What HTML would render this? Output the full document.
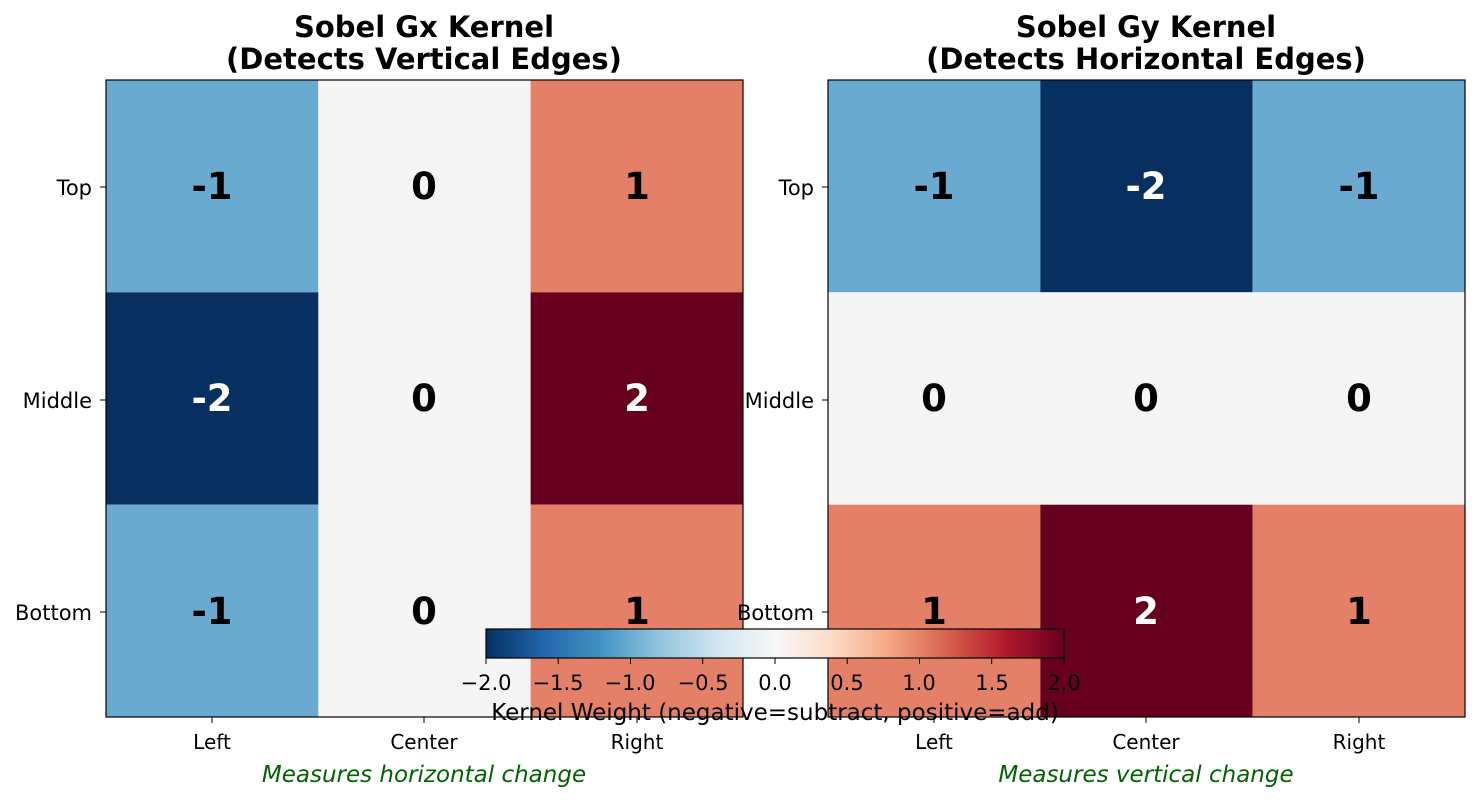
<!DOCTYPE html>
<html><head><meta charset="utf-8"><style>body{margin:0;background:#fff}svg{display:block;font-family:"DejaVu Sans","Liberation Sans",sans-serif}</style></head>
<body>
<svg width="1479" height="802" xmlns="http://www.w3.org/2000/svg">
<defs><linearGradient id="g" x1="0" x2="1" y1="0" y2="0">
<stop offset="0" stop-color="#053061"/><stop offset="0.1" stop-color="#2166ac"/><stop offset="0.2" stop-color="#4393c3"/><stop offset="0.3" stop-color="#92c5de"/><stop offset="0.4" stop-color="#d1e5f0"/><stop offset="0.5" stop-color="#f7f7f7"/><stop offset="0.6" stop-color="#fddbc7"/><stop offset="0.7" stop-color="#f4a582"/><stop offset="0.8" stop-color="#d6604d"/><stop offset="0.9" stop-color="#b2182b"/><stop offset="1" stop-color="#67001f"/></linearGradient></defs>
<!-- left -->
<g>
<rect x="106" y="80" width="212.3" height="212.3" fill="#6aaad0"/><rect x="318.3" y="80" width="212.3" height="637" fill="#f5f5f5"/><rect x="530.6" y="80" width="212.4" height="212.3" fill="#e48067"/>
<rect x="106" y="292.3" width="212.3" height="212.4" fill="#073060"/><rect x="530.6" y="292.3" width="212.4" height="212.4" fill="#67001f"/>
<rect x="106" y="504.7" width="212.3" height="212.3" fill="#6aaad0"/><rect x="530.6" y="504.7" width="212.4" height="212.3" fill="#e48067"/>
<rect x="106" y="80" width="637" height="637" fill="none" stroke="#000" stroke-width="1.2"/>
<g font-size="37" font-weight="bold" text-anchor="middle">
<text x="212" y="199">-1</text><text x="424" y="199">0</text><text x="637" y="199">1</text>
<text x="212" y="411" fill="#fff">-2</text><text x="424" y="411">0</text><text x="637" y="411" fill="#fff">2</text>
<text x="212" y="624">-1</text><text x="424" y="624">0</text><text x="637" y="624">1</text></g>
<g stroke="#000"><line x1="100" x2="106" y1="187" y2="187"/><line x1="100" x2="106" y1="400" y2="400"/><line x1="100" x2="106" y1="612" y2="612"/>
<line x1="212" x2="212" y1="717" y2="723"/><line x1="424" x2="424" y1="717" y2="723"/><line x1="637" x2="637" y1="717" y2="723"/></g>
<g font-size="21" text-anchor="end"><text x="92" y="195">Top</text><text x="92" y="408">Middle</text><text x="92" y="620">Bottom</text></g>
<g font-size="20" text-anchor="middle"><text x="212" y="749">Left</text><text x="424" y="749">Center</text><text x="637" y="749">Right</text></g>
<text x="424" y="782" font-size="23" font-style="italic" fill="#006400" text-anchor="middle">Measures horizontal change</text>
<g font-size="29" font-weight="bold" text-anchor="middle"><text x="424" y="37">Sobel Gx Kernel</text><text x="424" y="69">(Detects Vertical Edges)</text></g>
</g>
<!-- right -->
<g>
<rect x="828" y="80" width="212.3" height="212.3" fill="#6aaad0"/><rect x="1040.3" y="80" width="212.3" height="212.3" fill="#073060"/><rect x="1252.6" y="80" width="212.4" height="212.3" fill="#6aaad0"/>
<rect x="828" y="292.3" width="637" height="212.4" fill="#f5f5f5"/>
<rect x="828" y="504.7" width="212.3" height="212.3" fill="#e48067"/><rect x="1040.3" y="504.7" width="212.3" height="212.3" fill="#67001f"/><rect x="1252.6" y="504.7" width="212.4" height="212.3" fill="#e48067"/>
<rect x="828" y="80" width="637" height="637" fill="none" stroke="#000" stroke-width="1.2"/>
<g font-size="37" font-weight="bold" text-anchor="middle">
<text x="934" y="199">-1</text><text x="1146" y="199" fill="#fff">-2</text><text x="1359" y="199">-1</text>
<text x="934" y="411">0</text><text x="1146" y="411">0</text><text x="1359" y="411">0</text>
<text x="934" y="624">1</text><text x="1146" y="624" fill="#fff">2</text><text x="1359" y="624">1</text></g>
<g stroke="#000"><line x1="822" x2="828" y1="187" y2="187"/><line x1="822" x2="828" y1="400" y2="400"/><line x1="822" x2="828" y1="612" y2="612"/>
<line x1="934" x2="934" y1="717" y2="723"/><line x1="1146" x2="1146" y1="717" y2="723"/><line x1="1359" x2="1359" y1="717" y2="723"/></g>
<g font-size="21" text-anchor="end"><text x="814" y="195">Top</text><text x="814" y="408">Middle</text><text x="814" y="620">Bottom</text></g>
<g font-size="20" text-anchor="middle"><text x="934" y="749">Left</text><text x="1146" y="749">Center</text><text x="1359" y="749">Right</text></g>
<text x="1146" y="782" font-size="23" font-style="italic" fill="#006400" text-anchor="middle">Measures vertical change</text>
<g font-size="29" font-weight="bold" text-anchor="middle"><text x="1146" y="37">Sobel Gy Kernel</text><text x="1146" y="69">(Detects Horizontal Edges)</text></g>
</g>
<!-- colorbar -->
<rect x="486" y="629" width="578" height="29" fill="url(#g)" stroke="#000" stroke-width="1.2"/>
<g stroke="#000"><line x1="486" x2="486" y1="658" y2="664"/><line x1="558.2" x2="558.2" y1="658" y2="664"/><line x1="630.5" x2="630.5" y1="658" y2="664"/><line x1="702.7" x2="702.7" y1="658" y2="664"/><line x1="775" x2="775" y1="658" y2="664"/><line x1="847.2" x2="847.2" y1="658" y2="664"/><line x1="919.5" x2="919.5" y1="658" y2="664"/><line x1="991.7" x2="991.7" y1="658" y2="664"/><line x1="1064" x2="1064" y1="658" y2="664"/></g>
<g font-size="21" text-anchor="middle"><text x="486" y="690">−2.0</text><text x="558" y="690">−1.5</text><text x="630" y="690">−1.0</text><text x="703" y="690">−0.5</text><text x="775" y="690">0.0</text><text x="847" y="690">0.5</text><text x="919" y="690">1.0</text><text x="992" y="690">1.5</text><text x="1064" y="690">2.0</text></g>
<text x="775" y="720" font-size="23" text-anchor="middle">Kernel Weight (negative=subtract, positive=add)</text>
</svg>
</body></html>
